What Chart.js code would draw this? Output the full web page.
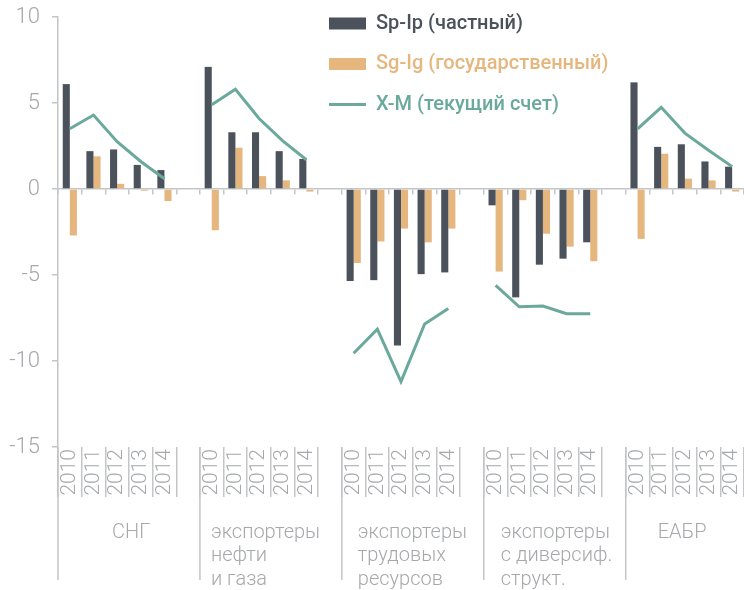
<!DOCTYPE html>
<html lang="ru">
<head>
<meta charset="utf-8">
<title>Баланс сбережений и инвестиций</title>
<script src="https://cdn.jsdelivr.net/npm/chart.js@4.4.1/dist/chart.umd.min.js"></script>
<style>
  html, body { margin: 0; padding: 0; background: #fff; }
  #wrap { width: 744px; height: 590px; }
</style>
</head>
<body>
<div id="wrap"><canvas id="balanceChart" width="744" height="590"></canvas></div>
<script>
// years shown inside every group
const years = ['2010', '2011', '2012', '2013', '2014'];

// country groups (one entry per line of the caption)
const groupNames = [
  ['СНГ'],
  ['экспортеры', 'нефти', 'и газа'],
  ['экспортеры', 'трудовых', 'ресурсов'],
  ['экспортеры', 'с диверсиф.', 'структ.'],
  ['ЕАБР']
];

// Sp-Ip, private balance, % of GDP (one row per group)
const privateBalance = [
  [6.1, 2.2, 2.3, 1.4, 1.1],
  [7.1, 3.3, 3.3, 2.2, 1.75],
  [-5.35, -5.3, -9.1, -4.95, -4.85],
  [-0.95, -6.3, -4.4, -4.05, -3.1],
  [6.2, 2.45, 2.6, 1.6, 1.3]
];

// Sg-Ig, government balance
const publicBalance = [
  [-2.7, 1.9, 0.3, -0.1, -0.7],
  [-2.4, 2.4, 0.75, 0.5, -0.15],
  [-4.3, -3.05, -2.3, -3.1, -2.3],
  [-4.8, -0.65, -2.6, -3.35, -4.2],
  [-2.9, 2.05, 0.6, 0.5, -0.15]
];

// X-M, current account
const currentAccount = [
  [3.5, 4.3, 2.75, 1.6, 0.6],
  [4.9, 5.8, 4.1, 2.8, 1.7],
  [-9.55, -8.15, -11.2, -7.85, -6.95],
  [-5.6, -6.85, -6.8, -7.25, -7.25],
  [3.5, 4.75, 3.25, 2.25, 1.3]
];

const seriesNames = ['Sp-Ip (частный)', 'Sg-Ig (государственный)', 'X-M (текущий счет)'];
const seriesColors = ['#4b525c', '#e5b67d', '#6aa99b'];

const axisColor = '#c4c5c7';
const textColor = '#a6a8ab';
const GROUP_SIZE = years.length + 1; // 5 years + one empty slot

// flatten groups into one row of slots, with an empty slot between groups
function toSlots(rows) {
  const out = [];
  rows.forEach((row, i) => {
    if (i > 0) out.push(null);
    out.push(...row);
  });
  return out;
}

const slotLabels = toSlots(groupNames.map(() => years)).map(v => v === null ? '' : v);

Chart.defaults.font.family = 'Roboto, "Noto Sans", sans-serif';

// separators under the axis and the group captions
const groupAxisPlugin = {
  id: 'groupAxis',
  afterDraw(chart, args, opts) {
    const { ctx, chartArea, scales } = chart;
    const x = scales.x;
    const half = (x.getPixelForValue(1) - x.getPixelForValue(0)) / 2;
    ctx.save();
    ctx.strokeStyle = axisColor;
    ctx.lineWidth = 1.5;
    ctx.fillStyle = textColor;
    ctx.font = opts.font;
    ctx.textAlign = 'left';
    ctx.textBaseline = 'alphabetic';
    groupNames.forEach((name, g) => {
      const left = x.getPixelForValue(g * GROUP_SIZE) - half;
      ctx.beginPath();
      ctx.moveTo(left, chartArea.bottom);
      ctx.lineTo(left, opts.lineEnd);
      ctx.stroke();
      name.forEach((line, k) => {
        ctx.fillText(line, left + opts.textShift[g], opts.baseline + k * opts.lineHeight);
      });
    });
    ctx.restore();
  }
};

// move the legend block to the top right of the plot
const legendPlacePlugin = {
  id: 'legendPlace',
  beforeDraw(chart, args, opts) {
    const lg = chart.legend;
    const pad = lg.options.labels.padding;
    const size = lg.options.labels.font.size;
    lg.left = opts.x - pad;
    lg.top = opts.y - pad - size / 2;
  }
};

new Chart(document.getElementById('balanceChart'), {
  data: {
    labels: slotLabels,
    datasets: [
      {
        type: 'bar',
        label: seriesNames[0],
        data: toSlots(privateBalance),
        backgroundColor: seriesColors[0],
        borderWidth: 0
      },
      {
        type: 'bar',
        label: seriesNames[1],
        data: toSlots(publicBalance),
        backgroundColor: seriesColors[1],
        borderWidth: 0
      },
      {
        type: 'line',
        label: seriesNames[2],
        data: toSlots(currentAccount),
        borderColor: seriesColors[2],
        backgroundColor: seriesColors[2],
        borderWidth: 3,
        pointRadius: 0,
        tension: 0,
        spanGaps: false,
        order: -1
      }
    ]
  },
  options: {
    responsive: false,
    animation: false,
    devicePixelRatio: 1,
    layout: { padding: 0 },
    datasets: {
      bar: { categoryPercentage: 0.6, barPercentage: 1.0 }
    },
    plugins: {
      tooltip: { enabled: false },
      legend: {
        position: 'chartArea',
        align: 'start',
        labels: {
          usePointStyle: true,
          pointStyleWidth: 37,
          boxHeight: 12,
          padding: 20.5,
          font: { size: 20, weight: '500' },
          sort: (a, b) => a.datasetIndex - b.datasetIndex,
          generateLabels(chart) {
            const items = Chart.defaults.plugins.legend.labels.generateLabels(chart);
            return items.map(item => {
              const c = seriesColors[item.datasetIndex];
              const isLine = item.datasetIndex === 2;
              return Object.assign(item, {
                fontColor: c,
                fillStyle: c,
                strokeStyle: c,
                pointStyle: isLine ? 'line' : 'rect',
                lineWidth: isLine ? 3 : 0
              });
            });
          }
        }
      },
      legendPlace: { x: 329, y: 23.5 },
      groupAxis: {
        font: '300 20px Roboto, "Noto Sans", sans-serif',
        lineEnd: 580,
        baseline: 538,
        lineHeight: 23.3,
        textShift: [54, 11, 16, 17, 32]
      }
    },
    scales: {
      y: {
        min: -15,
        max: 10,
        afterFit(scale) {
          scale.width = 58;
          scale.paddingTop = 17;
          scale.paddingBottom = 0;
        },
        ticks: {
          stepSize: 5,
          color: textColor,
          padding: 12,
          font: { size: 22, weight: '300' }
        },
        grid: { drawOnChartArea: false, tickLength: 6, color: axisColor, lineWidth: 1.5 },
        border: { color: axisColor, width: 1.5 }
      },
      // zero line with small marks between slots
      x: {
        type: 'category',
        position: { y: 0 },
        offset: true,
        ticks: { display: false },
        grid: { offset: true, drawOnChartArea: false, tickLength: 5, color: axisColor, lineWidth: 1.5 },
        border: { color: axisColor, width: 1.5 }
      },
      // year captions below the plot
      years: {
        type: 'category',
        position: 'bottom',
        labels: slotLabels,
        offset: true,
        afterFit(scale) {
          scale.height = 143;
          scale.paddingLeft = 0;
          scale.paddingRight = 0;
        },
        ticks: {
          autoSkip: false,
          minRotation: 90,
          maxRotation: 90,
          padding: -48,
          color: textColor,
          font: { size: 21, weight: '300' }
        },
        grid: { offset: true, drawOnChartArea: false, tickLength: 50, color: axisColor, lineWidth: 1.5 },
        border: { display: false }
      }
    }
  },
  plugins: [groupAxisPlugin, legendPlacePlugin]
});
</script>
</body>
</html>
